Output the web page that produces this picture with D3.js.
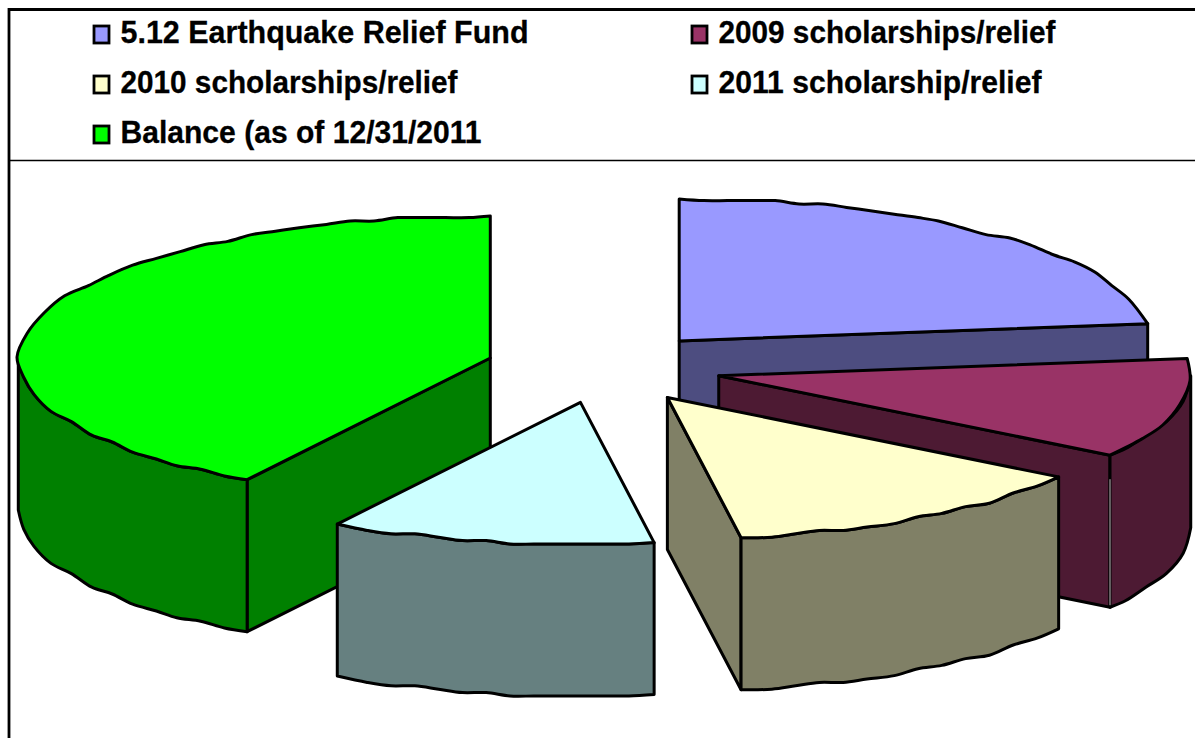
<!DOCTYPE html>
<html><head><meta charset="utf-8">
<script src="https://cdnjs.cloudflare.com/ajax/libs/d3/7.8.5/d3.min.js"></script>
<style>html,body{margin:0;padding:0;background:#fff;overflow:hidden}svg{display:block}</style>
</head><body><svg id="c" width="1195" height="738"></svg>
<script>
const categories = ["5.12 Earthquake Relief Fund","2009 scholarships/relief","2010 scholarships/relief","2011 scholarship/relief","Balance (as of 12/31/2011"];
const shares = [23.06, 11.39, 13.06, 11.11, 41.39];
const topColors = ["#9999FF","#993366","#FFFFCC","#CCFFFF","#00FF00"];
const wallColors = ["#4D4D80","#4D1A33","#808066","#668080","#008000"];
const paintOrder = [0,4,1,3,2];
const legendCols = [0,1,0,1,0];
const legendRows = [0,0,1,1,2];
const legendWidths = [408,337,337,323,361];
const sliceNudgeX = [-3,0,0,-1,0];
const cornerGap = [false,true,false,false,false];

const svg = d3.select("#c");
const CX=604, CY=367.5, RX=472, RY=142, DEPTH=152, EXPLODE=0.25, GRID=3.4, CHORD=24;
const sx = d3.scaleLinear().domain([-1,1]).range([CX-RX,CX+RX]);
const sy = d3.scaleLinear().domain([-1,1]).range([CY-RY,CY+RY]);

// frame
svg.append("line").attr("x1",9).attr("x2",9).attr("y1",8).attr("y2",738).attr("stroke","#000").attr("stroke-width",2.8);
svg.append("line").attr("x1",8).attr("x2",1195).attr("y1",9.5).attr("y2",9.5).attr("stroke","#000").attr("stroke-width",3);
svg.append("line").attr("x1",9).attr("x2",1195).attr("y1",160.5).attr("y2",160.5).attr("stroke","#000").attr("stroke-width",1.6);

// legend
const colX = d3.scaleOrdinal().domain([0,1]).range([94,692]);
const rowY = d3.scaleLinear().domain([0,2]).range([43,143]);
const lg = svg.append("g").selectAll("g").data(categories).join("g")
  .attr("transform",(d,i)=>`translate(${colX(legendCols[i])},${rowY(legendRows[i])})`);
lg.append("rect").attr("x",0).attr("y",-17).attr("width",15).attr("height",17)
  .attr("fill",(d,i)=>topColors[i]).attr("stroke","#000").attr("stroke-width",2.8);
lg.append("text").attr("x",26.5).attr("y",0).text(d=>d)
  .attr("font-family","'Liberation Sans',Arial,sans-serif").attr("font-weight","bold").attr("font-size",32)
  .attr("textLength",(d,i)=>legendWidths[i]).attr("lengthAdjust","spacingAndGlyphs").attr("fill","#000")
  .attr("stroke","#000").attr("stroke-width",0.3);

// slices
const arcs = d3.pie().sort(null).value(d=>d)(shares);
const line = d3.line().curve(d3.curveLinear);
const smooth = d3.line().curve(d3.curveCatmullRom.alpha(0.5));

// rim sampled at a fixed chord and snapped to a coarse grid: gives the raster's slightly wavy outline
function rim(a0,a1,ox,oy){
  const pts=[];
  let t=a0;
  const pt=t=>[sx(Math.sin(t))+ox, sy(-Math.cos(t))+oy];
  pts.push(pt(a0));
  while(true){
    const sp=Math.hypot(RX*Math.cos(t),RY*Math.sin(t));
    t+=CHORD/sp;
    if(t>=a1-0.5*CHORD/sp) break;
    const p=pt(t);
    pts.push([Math.round(p[0]/GRID)*GRID,Math.round(p[1]/GRID)*GRID]);
  }
  pts.push(pt(a1));
  return pts;
}

const g = svg.append("g").attr("stroke","#000").attr("stroke-width",3).attr("stroke-linejoin","round");
paintOrder.forEach(i=>{
  const a=arcs[i], mid=(a.startAngle+a.endAngle)/2;
  const ox=EXPLODE*(sx(Math.sin(mid))-CX)+sliceNudgeX[i], oy=EXPLODE*(sy(-Math.cos(mid))-CY);
  const ax=CX+ox, ay=CY+oy;
  const edge=t=>[sx(Math.sin(t))+ox, sy(-Math.cos(t))+oy];
  const sg=g.append("g").attr("class","slice");
  const wall=(t)=>{
    const e=edge(t);
    sg.append("path").attr("fill",wallColors[i])
      .attr("d",line([[ax,ay],e,[e[0],e[1]+DEPTH],[ax,ay+DEPTH]])+"Z");
  };
  if(Math.sin(a.startAngle)<-1e-6) wall(a.startAngle);
  if(Math.sin(a.endAngle)>1e-6) wall(a.endAngle);
  const r=rim(a.startAngle,a.endAngle,ox,oy);
  // outer wall: the front-facing part of the same rim, pushed down by the pie's depth
  const lo=Math.max(a.startAngle,Math.PI/2), hi=Math.min(a.endAngle,Math.PI*1.5);
  if(hi>lo){
    const top=rim(lo,hi,ox,oy);
    const bot=top.map(p=>[p[0],p[1]+DEPTH]).reverse();
    sg.append("path").attr("fill",wallColors[i])
      .attr("d",smooth(top)+"L"+smooth(bot).slice(1)+"Z");
  }
  sg.append("path").attr("fill",topColors[i])
    .attr("d",smooth(r)+"L"+ax+","+ay+"Z");
  if(cornerGap[i]){
    const e=edge(a.endAngle);
    sg.append("line").attr("x1",e[0]).attr("x2",e[0]).attr("y1",e[1]+24).attr("y2",e[1]+DEPTH-2)
      .attr("stroke","#d8d0d4").attr("stroke-width",0.9);
  }
});
</script></body></html>
